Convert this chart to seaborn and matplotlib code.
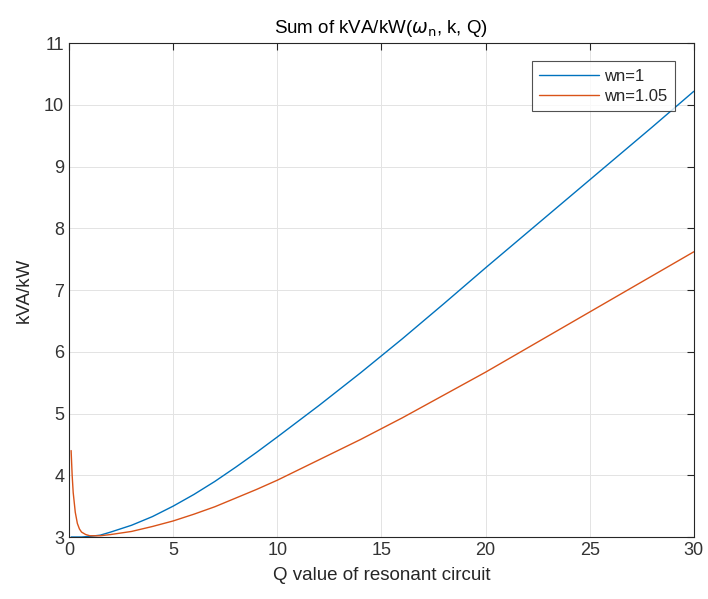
import seaborn as sns
import pandas as pd
from matplotlib import pyplot as plt

# Q values (x) and the two curves
q_values = [0.1, 0.15, 0.2, 0.3, 0.4, 0.5, 0.6, 0.8, 1.0, 1.5, 2, 3, 4, 5, 6, 7, 8, 9,
            10, 12, 14, 16, 18, 20, 22, 24, 26, 28, 30]
wn_1 = [3.00, 3.00, 3.00, 3.00, 3.00, 3.00, 3.00, 3.005, 3.01, 3.03, 3.08, 3.19, 3.33, 3.50,
        3.69, 3.90, 4.13, 4.37, 4.62, 5.13, 5.66, 6.21, 6.78, 7.36, 7.93, 8.50, 9.07, 9.64, 10.22]
wn_105 = [4.40, 4.00, 3.72, 3.40, 3.22, 3.13, 3.08, 3.04, 3.02, 3.02, 3.04, 3.09, 3.17, 3.26,
          3.37, 3.49, 3.63, 3.77, 3.92, 4.25, 4.58, 4.93, 5.30, 5.67, 6.06, 6.45, 6.84, 7.23, 7.62]
series_names = ['wn=1', 'wn=1.05']

df = pd.concat([
    pd.DataFrame({'Q': q_values, 'kVA/kW': wn_1, 'series': series_names[0]}),
    pd.DataFrame({'Q': q_values, 'kVA/kW': wn_105, 'series': series_names[1]}),
])

sns.set_style('white')
plt.rcParams['font.family'] = ['Liberation Sans', 'DejaVu Sans']
plt.rcParams['mathtext.fontset'] = 'dejavusans'

dark = '#262626'
fig = plt.figure(figsize=(7.08, 5.99), dpi=100)
ax = fig.add_axes([0.0975, 0.1035, 0.8825, 0.8245])

cdict = {'wn=1': '#0072BD', 'wn=1.05': '#D95319'}
sns.lineplot(data=df, x='Q', y='kVA/kW', hue='series', palette=cdict,
             linewidth=1.0, ax=ax, estimator=None, sort=False)

ax.set_xlim(0, 30)
ax.set_ylim(3, 11)
ax.set_xticks(range(0, 31, 5))
ax.set_yticks(range(3, 12))
ax.grid(True, color='#e3e3e3', linewidth=0.7)
ax.set_axisbelow(True)
for s in ax.spines.values():
    s.set_color(dark)
    s.set_linewidth(0.8)
ax.tick_params(direction='in', top=True, right=True, length=5, width=0.8,
               colors=dark, labelsize=13, labelcolor='#333333')
ax.set_xlabel('Q value of resonant circuit', fontsize=13.5, color=dark, labelpad=6)
ax.set_ylabel('kVA/kW', fontsize=13.5, color=dark, labelpad=8)
ax.set_title(r'Sum of kVA/kW($\omega_{\mathrm{n}}$, k, Q)', fontsize=13.5, color='black', pad=7)

leg = ax.legend(loc='upper right', bbox_to_anchor=(0.97, 0.963), fontsize=12,
                frameon=True, fancybox=False, handlelength=3.6, handletextpad=0.3,
                borderpad=0.45, labelspacing=0.3, borderaxespad=0)
leg.get_frame().set_edgecolor(dark)
leg.get_frame().set_linewidth(0.8)

fig.savefig('out.png', dpi=100)
